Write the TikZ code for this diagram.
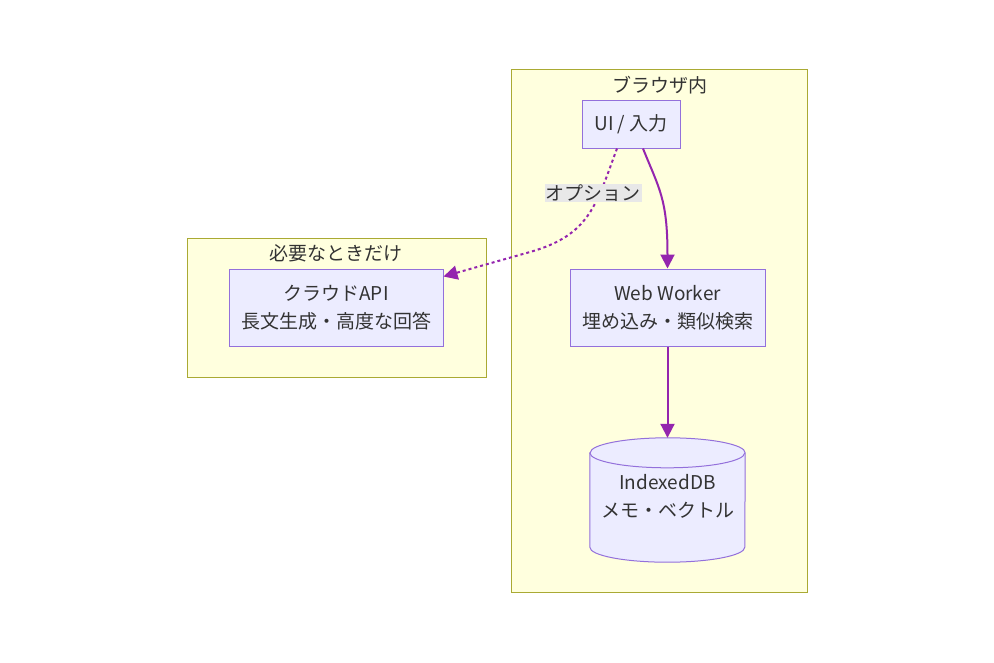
\documentclass[tikz,border=0pt]{standalone}
\usepackage{fontspec}
\setmainfont{Noto Sans CJK JP}
\usetikzlibrary{arrows.meta,positioning}
\definecolor{clfill}{HTML}{FFFFDE}
\definecolor{clline}{HTML}{AAAA33}
\definecolor{ndfill}{HTML}{ECECFF}
\definecolor{ndline}{HTML}{9370DB}
\definecolor{edgecol}{HTML}{9425AE}
\definecolor{txt}{HTML}{333333}
\definecolor{lblfill}{HTML}{E8E8E8}

\begin{document}
\begin{tikzpicture}[x=1pt,y=-1pt,
	font=\fontsize{19}{28}\selectfont, text=txt,
	cluster/.style={draw=clline, fill=clfill, line width=1pt, inner sep=0pt},
	title/.style={inner sep=0pt, anchor=center},
	box/.style={draw=ndline, fill=ndfill, line width=1pt, align=center, inner sep=0pt},
	flow/.style={draw=edgecol, line width=2pt, -{Triangle[length=14pt,width=14pt]}},
	dotflow/.style={flow, dash pattern=on 3pt off 3pt},
	edgelbl/.style={fill=lblfill, inner sep=1pt}]
	\useasboundingbox (0,0) rectangle (994,662);
	% groups
	\node[cluster, minimum width=296pt, minimum height=523pt] (browser) at (659,330.5) {};
	\node[cluster, minimum width=299pt, minimum height=139pt] (ondemand) at (336.5,307.5) {};
	\node[title] at (660,85) {ブラウザ内};
	\node[title] at (336,253) {必要なときだけ};
	% nodes
	\node[box, minimum width=98pt, minimum height=48pt] (ui) at (631,124) {UI / 入力};
	\node[box, minimum width=195pt, minimum height=77pt] (worker) at (667.5,307.5) {Web Worker\\埋め込み・類似検索};
	\node[box, minimum width=214pt, minimum height=77pt] (cloud) at (336,307.5) {クラウドAPI\\長文生成・高度な回答};
	\node[inner sep=0pt, minimum width=155pt, minimum height=124pt] (db) at (667.5,500) {};
	% cylinder body
	\path[draw=ndline, fill=ndfill, line width=1pt]
		([yshift=-15pt]db.north west) -- ([yshift=15pt]db.south west)
		arc[start angle=180, end angle=360, x radius=77.5pt, y radius=15pt]
		-- ([yshift=-15pt]db.north east)
		arc[start angle=0, end angle=180, x radius=77.5pt, y radius=15pt] -- cycle;
	\draw[ndline, line width=1pt] ([yshift=-15pt]db.north west)
		arc[start angle=180, end angle=360, x radius=77.5pt, y radius=15pt];
	\node[align=center, inner sep=0pt] at ([yshift=4pt]db.center) {IndexedDB\\メモ・ベクトル};
	% edges
	\draw[flow] ([xshift=12pt]ui.south) .. controls ([xshift=28pt,yshift=-40pt]ui.south)
		and ([yshift=70pt]worker.north) .. (worker.north);
	\draw[flow] (worker.south) -- (db.north);
	\draw[dotflow] ([xshift=-14pt]ui.south) .. controls (596,205) and (590,235) .. (530,252)
		-- ([yshift=-8pt]cloud.north east);
	\node[edgelbl] (opt) at (593,193) {オプション};
\end{tikzpicture}
\end{document}
